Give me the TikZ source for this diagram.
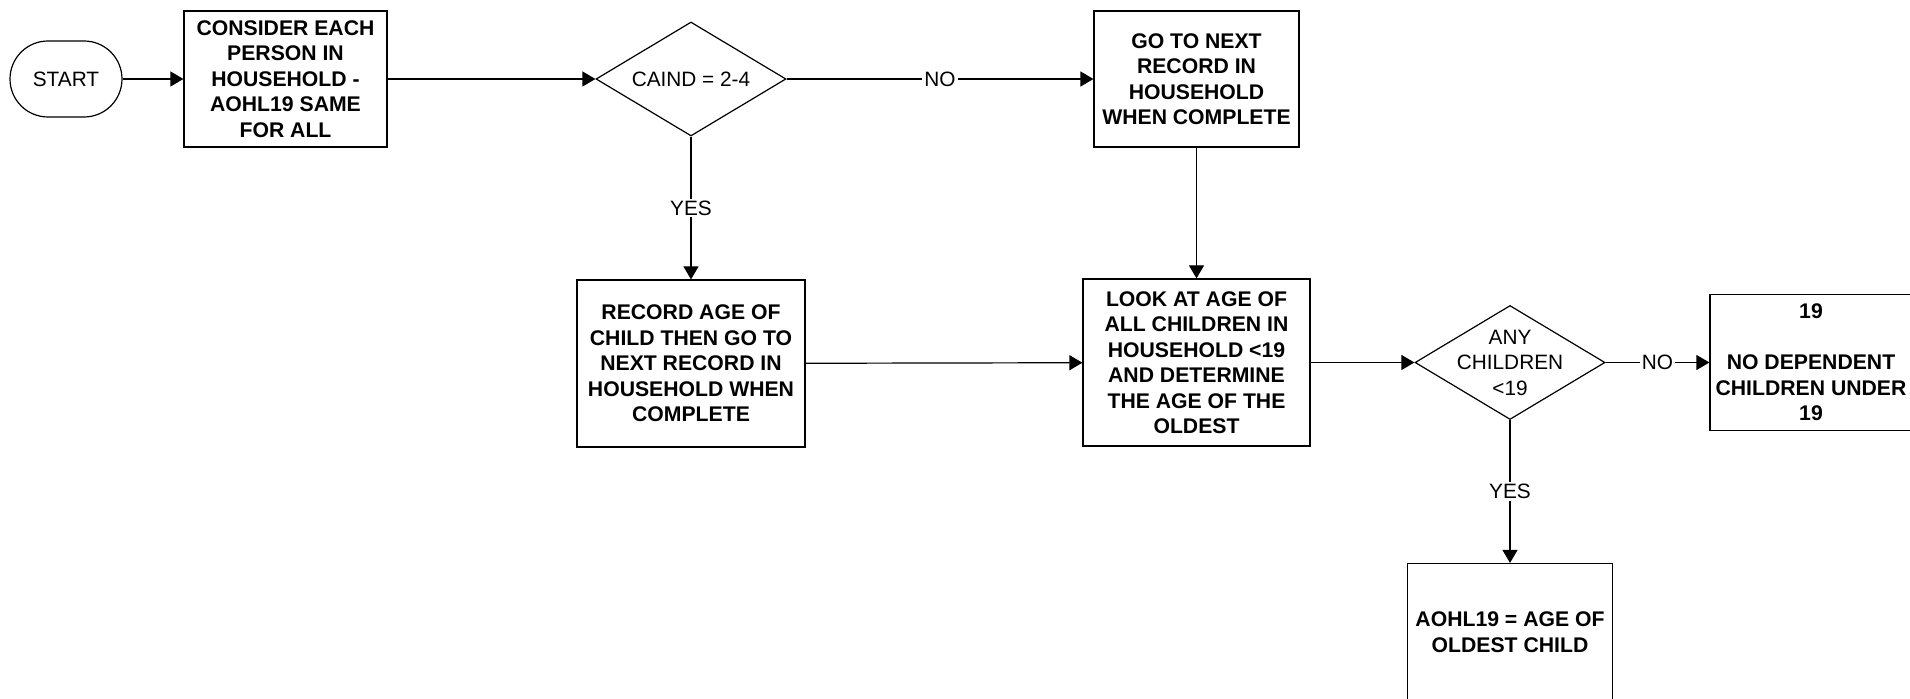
\documentclass[tikz,border=0pt]{standalone}
\usepackage{fontspec}
\setmainfont{Liberation Sans}
\usepackage{tikz}
\usetikzlibrary{arrows.meta,shapes.geometric,positioning}
\usepackage{xcolor}

\begin{document}
\begin{tikzpicture}[
				node distance=30pt,
				line width=0.6pt,
				>={Triangle[length=6.5pt,width=7.5pt]},
				terminal/.style={draw,rectangle,rounded corners=19pt,minimum width=56pt,minimum height=38pt,font=\fontsize{10.4}{12.75}\selectfont},
				process/.style={draw,rectangle,inner sep=2pt,align=center,font=\fontsize{10.6}{12.75}\selectfont\bfseries},
				decision/.style={draw,diamond,inner sep=0pt,minimum width=95pt,minimum height=57pt},
				plain/.style={align=center,font=\fontsize{10.4}{12.75}\selectfont},
				answer/.style={fill=white,inner sep=1pt,font=\fontsize{10.4}{12.75}\selectfont}
				]
				
				\useasboundingbox (0,0) rectangle (955pt,-349.5pt);
				\clip (0,0) rectangle (955pt,-349.5pt);
				
				\node[terminal] (start) at (33pt,-39.5pt) {START};
				\node[process,right=30.4pt of start,minimum width=101.5pt,minimum height=68pt] (consider) {CONSIDER EACH\\PERSON IN\\HOUSEHOLD -\\AOHL19 SAME\\FOR ALL};
				\node[decision,right=103.9pt of consider,label={[plain]center:{CAIND = 2-4}}] (caind) {};
				\node[process,right=153.4pt of caind,minimum width=102.5pt,minimum height=68pt] (nextrec) {GO TO NEXT\\RECORD IN\\HOUSEHOLD\\WHEN COMPLETE};
				\node[process,below=71.4pt of caind,minimum width=114pt,minimum height=83.5pt] (recage) {RECORD AGE OF\\CHILD THEN GO TO\\NEXT RECORD IN\\HOUSEHOLD WHEN\\COMPLETE};
				\node[process,below=65.4pt of nextrec,minimum width=113.5pt,minimum height=83.5pt] (lookage) {LOOK AT AGE OF\\ALL CHILDREN IN\\HOUSEHOLD <19\\AND DETERMINE\\THE AGE OF THE\\OLDEST};
				\node[decision,right=51.9pt of lookage,label={[plain]center:{ANY\\CHILDREN\\<19}}] (anykids) {};
				\node[process,right=51.9pt of anykids,minimum width=101pt,minimum height=68pt] (nodep) {19\\[12.75pt]NO DEPENDENT\\CHILDREN UNDER\\19};
				\node[process,below=71.4pt of anykids,minimum width=102.5pt,minimum height=68.5pt] (oldest) {AOHL19 = AGE OF\\OLDEST CHILD};
				
				% Collegamenti
				\draw[->] (start) -- (consider);
				\draw[->] (consider) -- (caind);
				\draw[->] (caind) -- (nextrec) node[midway,answer] {NO};
				\draw[->] (caind) -- (recage) node[midway,answer] {YES};
				\draw[->] (nextrec) -- (lookage);
				\draw[->] (recage) -- (lookage);
				\draw[->] (lookage) -- (anykids);
				\draw[->] (anykids) -- (nodep) node[midway,answer] {NO};
				\draw[->] (anykids) -- (oldest) node[midway,answer] {YES};
				
			\end{tikzpicture}
\end{document}
